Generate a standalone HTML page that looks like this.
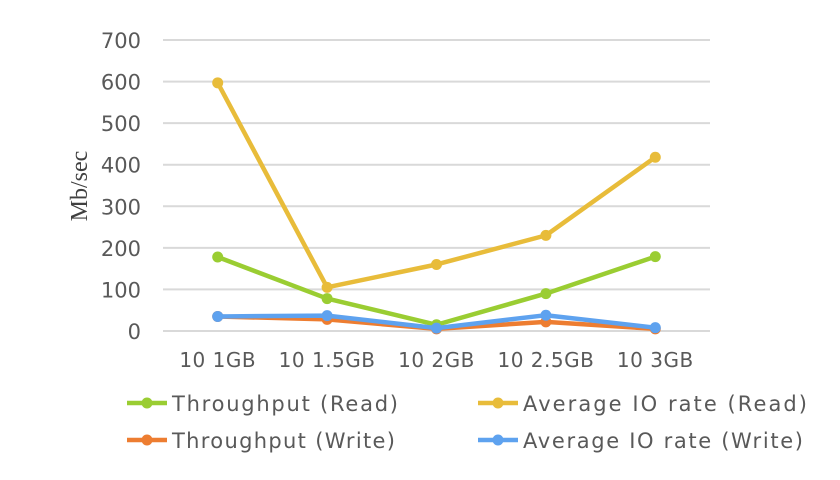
<!DOCTYPE html>
<html><head><meta charset="utf-8"><style>
body{margin:0;background:#fff;}
svg text{font-family:"DejaVu Sans",sans-serif;fill:#595959;}
</style></head><body>
<svg id="chart" width="840" height="475" xmlns="http://www.w3.org/2000/svg">
<g id="grid"></g><g id="series"></g><g id="labels"></g>
<text transform="translate(87,186) rotate(-90)" text-anchor="middle" style="font-family:'Liberation Serif',serif;font-size:24px;fill:#404040">Mb/sec</text>
<g id="legend"></g>
</svg>
<script>
const categories=["10 1GB","10 1.5GB","10 2GB","10 2.5GB","10 3GB"];
const yTicks=[0,100,200,300,400,500,600,700];
const throughputRead=[178,78,15,90,179];
const avgIoRead=[597,105,160,230,418];
const throughputWrite=[35,28,5,22,5];
const avgIoWrite=[35,37,7,38,8];
const seriesNames=["Throughput (Read)","Average IO rate (Read)","Throughput (Write)","Average IO rate (Write)"];
const ns="http://www.w3.org/2000/svg";
const x0=163,x1=710,yBase=331,yTop=40;
const bw=(x1-x0)/categories.length;
function xs(i){return x0+bw*(i+0.5);}
function ys(v){return yBase-(yBase-yTop)*v/700;}
function mk(tag,attrs,parent){const e=document.createElementNS(ns,tag);for(const k in attrs)e.setAttribute(k,attrs[k]);parent.appendChild(e);return e;}
const grid=document.getElementById('grid'),labels=document.getElementById('labels'),series=document.getElementById('series'),legend=document.getElementById('legend');
yTicks.forEach(t=>{
 const l=mk('line',{x1:x0,x2:x1,y1:ys(t),y2:ys(t),stroke:'#d9d9d9','stroke-width':2},grid);
 
 
 const tx=mk('text',{x:141,y:ys(t)+8,'text-anchor':'end','font-size':'21'},labels);
 tx.textContent=t;
 
 
});
categories.forEach((c,i)=>{
 const tx=mk('text',{x:xs(i),y:367,'text-anchor':'middle','font-size':'20','letter-spacing':'0.5'},labels);
 tx.textContent=c;
 
 
});
const data=[throughputRead,avgIoRead,throughputWrite,avgIoWrite];
const colors=["#9acd32","#e8bc3a","#ed7d31","#5ea2ef"];
[0,1,2,3].forEach(s=>{
 const g=mk('g',{},series);
 
 
 const pts=data[s].map((v,i)=>xs(i)+','+ys(v)).join(' ');
 mk('polyline',{points:pts,fill:'none',stroke:colors[s],'stroke-width':4.5,'stroke-linejoin':'round'},g);
 data[s].forEach((v,i)=>{
  const c=mk('circle',{cx:xs(i),cy:ys(v),r:5.5,fill:colors[s]},g);
  
  
 });
});
const legPos=[[127,403],[478,403],[127,440],[478,440]];
const legLen=[226,284,223,280];
seriesNames.forEach((n,s)=>{
 const [lx,ly]=legPos[s];
 const g=mk('g',{},legend);
 
 
 mk('line',{x1:lx,x2:lx+40,y1:ly,y2:ly,stroke:colors[s],'stroke-width':4.5},g);
 mk('circle',{cx:lx+20,cy:ly,r:5.5,fill:colors[s]},g);
 const t=mk('text',{x:lx+45,y:ly+8,'font-size':'21',textLength:legLen[s],lengthAdjust:'spacing'},g);
 t.textContent=n;
});
</script>
</body></html>
